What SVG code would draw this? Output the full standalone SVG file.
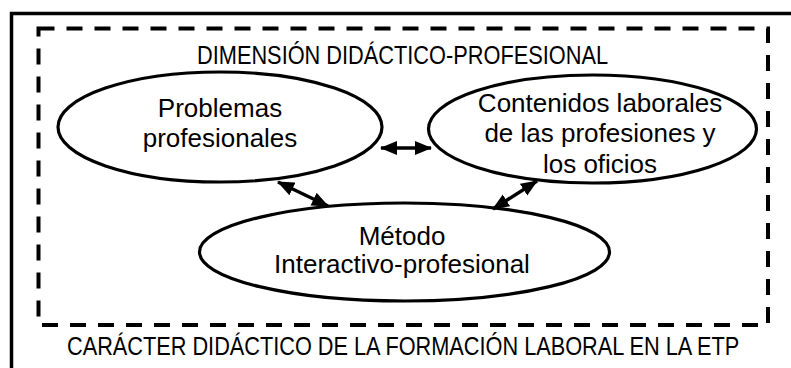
<svg xmlns="http://www.w3.org/2000/svg" width="791" height="368" viewBox="0 0 791 368">
<style>
.frame{fill:none;stroke:#000;stroke-width:3.5}
.dash{fill:none;stroke:#000;stroke-width:4;stroke-dasharray:16 12}
.node ellipse{fill:#fff;stroke:#000;stroke-width:3.2}
.lbl{font-family:"Liberation Sans",Arial,sans-serif;font-size:26px;fill:#000;text-anchor:middle}
.cap{font-family:"Liberation Sans",Arial,sans-serif;font-size:25px;fill:#000}
.conn line{stroke:#000;stroke-width:3.5;marker-start:url(#ah);marker-end:url(#ah)}
</style>
<defs>
<marker id="ah" markerUnits="userSpaceOnUse" markerWidth="18" markerHeight="15" refX="16" refY="7" orient="auto-start-reverse" viewBox="0 0 18 14">
<path d="M0,0 L17,7 L0,14 z" fill="#000"/>
</marker>
</defs>
<rect width="791" height="368" fill="#fff"/>
<path class="frame" d="M11.5,368 V13.5 H791"/>
<rect class="dash" x="38.5" y="28.5" width="729.5" height="296.5"/>
<g transform="scale(0.85 1)">
<text class="cap" x="231.8" y="64" textLength="483.5" lengthAdjust="spacingAndGlyphs">DIMENSIÓN DIDÁCTICO-PROFESIONAL</text>
<text class="cap" x="78.8" y="355" textLength="791" lengthAdjust="spacingAndGlyphs">CARÁCTER DIDÁCTICO DE LA FORMACIÓN LABORAL EN LA ETP</text>
</g>
<g id="problemas" class="node">
<ellipse cx="220" cy="127" rx="162" ry="55"/>
<text class="lbl" x="220" y="117">Problemas</text>
<text class="lbl" x="220" y="147">profesionales</text>
</g>
<g id="contenidos" class="node">
<ellipse cx="592.5" cy="129" rx="164" ry="54"/>
<text class="lbl" x="600" y="112">Contenidos laborales</text>
<text class="lbl" x="600" y="142">de las profesiones y</text>
<text class="lbl" x="600" y="173">los oficios</text>
</g>
<g id="metodo" class="node">
<ellipse cx="404.5" cy="252" rx="205" ry="49"/>
<text class="lbl" x="402" y="245">Método</text>
<text class="lbl" x="402" y="273">Interactivo-profesional</text>
</g>
<g id="connectors" class="conn">
<line x1="381" y1="148" x2="431" y2="148"/>
<line x1="278" y1="182" x2="328" y2="206"/>
<line x1="537" y1="181" x2="493" y2="209"/>
</g>
</svg>
